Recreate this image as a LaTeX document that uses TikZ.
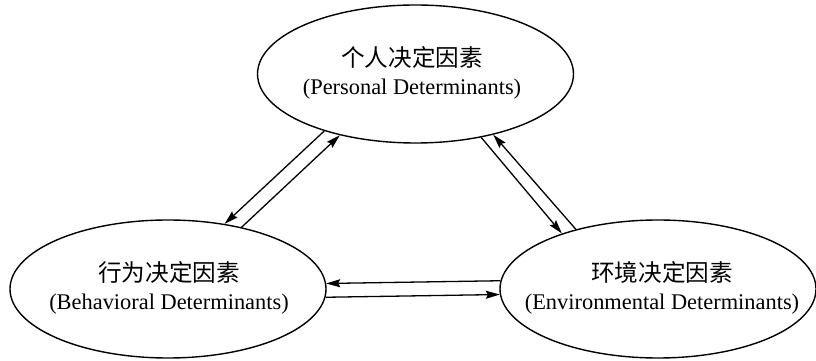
\documentclass[tikz,border=0pt]{standalone}
\usepackage{fontspec}
\setmainfont{Liberation Serif}
\newfontfamily\cjk{Noto Sans CJK SC}
\usetikzlibrary{shapes.geometric,arrows.meta}
\begin{document}
\begin{tikzpicture}[x=1pt,y=1pt,
  oval/.style={ellipse, draw, line width=1.4pt, minimum width=316pt, minimum height=138pt, inner sep=0pt},
  txt/.style={align=center, inner sep=0pt, font=\fontsize{22.4}{31}\selectfont},
  cjkline/.style={},
  conn/.style={line width=1.3pt, -{Stealth[length=14pt,width=8pt,inset=2pt]}}]
\useasboundingbox (0,0) rectangle (816,361);
\node[oval] (P) at (415.5,287) {};
\node[oval] (B) at (168,72) {};
\node[oval] (E) at (658,72) {};
\node[txt] (Pt) at (412,288) {{\cjk\fontsize{23.6}{31}\selectfont 个人决定因素}\\[-3pt](Personal Determinants)};
\node[txt] (Bt) at (169,73.5) {{\cjk\fontsize{23.6}{31}\selectfont 行为决定因素}\\[-3pt](Behavioral Determinants)};
\node[txt] (Et) at (662,73.5) {{\cjk\fontsize{23.6}{31}\selectfont 环境决定因素}\\[-3pt](Environmental Determinants)};
% P <-> B
\draw[conn] (P.212.8) -- (B.49.1);
\draw[conn] (B.40.7) -- (P.219.9);
% P <-> E
\draw[conn] (P.316.1) -- (E.150.3);
\draw[conn] (E.144.6) -- (P.322.6);
% B <-> E
\draw[conn] (E.177.4) -- (B.2.5);
\draw[conn] (B.357.5) -- (E.182.6);
\end{tikzpicture}
\end{document}
